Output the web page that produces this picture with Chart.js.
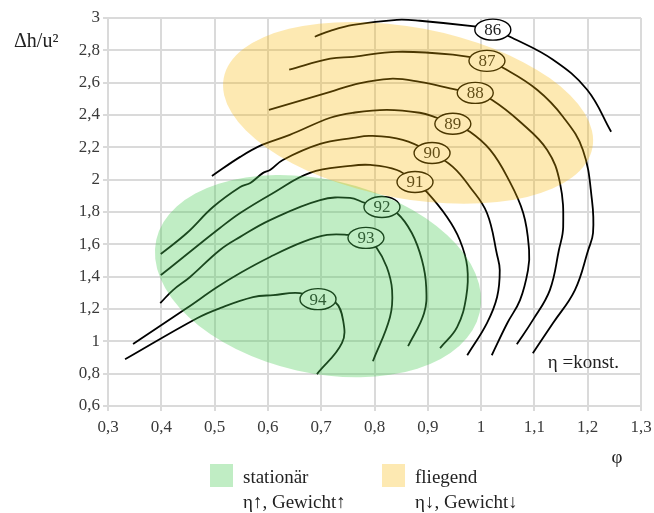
<!DOCTYPE html>
<html>
<head>
<meta charset="utf-8">
<script src="https://cdn.jsdelivr.net/npm/chart.js@4.4.0/dist/chart.umd.min.js"></script>
<style>
  html, body { margin: 0; padding: 0; background: #fff; }
  canvas { display: block; }
</style>
</head>
<body>
<canvas id="chart" width="654" height="513"></canvas>
<script>
// efficiency contours, points as [phi, dh/u^2]
const eta86 = [[0.688,2.884],[0.717,2.921],[0.760,2.958],[0.842,2.989],[0.885,2.983],[0.992,2.946],[1.022,2.928],[1.058,2.878],[1.135,2.742],[1.199,2.556],[1.244,2.296]];
const eta87 = [[0.640,2.680],[0.717,2.748],[0.760,2.760],[0.842,2.791],[0.947,2.773],[1.011,2.735],[1.041,2.692],[1.105,2.556],[1.154,2.388],[1.191,2.184],[1.208,1.874],[1.210,1.670],[1.201,1.565],[1.176,1.317],[1.135,1.113],[1.097,0.927]];
const eta88 = [[0.602,2.432],[0.717,2.543],[0.760,2.587],[0.829,2.624],[0.885,2.605],[0.955,2.556],[0.989,2.537],[1.020,2.494],[1.073,2.358],[1.124,2.184],[1.148,1.980],[1.154,1.707],[1.146,1.565],[1.129,1.317],[1.097,1.131],[1.067,0.982]];
const eta89 = [[0.495,2.023],[0.548,2.141],[0.589,2.215],[0.641,2.277],[0.717,2.383],[0.760,2.414],[0.823,2.432],[0.885,2.414],[0.917,2.383],[0.947,2.346],[0.979,2.296],[1.017,2.184],[1.049,2.017],[1.079,1.794],[1.090,1.565],[1.088,1.441],[1.073,1.255],[1.049,1.112],[1.020,0.914]];
const eta90 = [[0.399,1.540],[0.448,1.670],[0.497,1.831],[0.548,1.955],[0.567,1.980],[0.591,2.042],[0.604,2.060],[0.628,2.122],[0.698,2.221],[0.760,2.258],[0.792,2.271],[0.853,2.246],[0.908,2.165],[0.947,2.079],[0.979,1.955],[1.011,1.794],[1.030,1.534],[1.035,1.441],[1.030,1.274],[1.011,1.113],[0.974,0.914]];
const eta91 = [[0.399,1.410],[0.416,1.454],[0.458,1.565],[0.510,1.701],[0.548,1.794],[0.610,1.918],[0.679,2.042],[0.754,2.085],[0.792,2.091],[0.842,2.060],[0.876,1.986],[0.898,1.924],[0.936,1.769],[0.960,1.627],[0.974,1.460],[0.972,1.274],[0.955,1.088],[0.923,0.958]];
const eta92 = [[0.398,1.236],[0.422,1.317],[0.454,1.398],[0.510,1.565],[0.548,1.646],[0.604,1.750],[0.698,1.874],[0.754,1.887],[0.782,1.856],[0.814,1.831],[0.842,1.794],[0.870,1.670],[0.889,1.503],[0.897,1.336],[0.893,1.174],[0.863,0.970]];
const eta93 = [[0.347,0.983],[0.448,1.206],[0.505,1.336],[0.548,1.423],[0.604,1.522],[0.666,1.615],[0.711,1.658],[0.750,1.658],[0.784,1.640],[0.803,1.584],[0.823,1.460],[0.833,1.317],[0.829,1.149],[0.797,0.877]];
const eta94 = [[0.332,0.889],[0.467,1.143],[0.510,1.205],[0.572,1.273],[0.610,1.286],[0.660,1.298],[0.694,1.261],[0.726,1.243],[0.741,1.132],[0.739,0.990],[0.692,0.797]];

const etaValues = [86, 87, 88, 89, 90, 91, 92, 93, 94];
const etaCurves = [eta86, eta87, eta88, eta89, eta90, eta91, eta92, eta93, eta94];
const labelX = [1.022, 1.011, 0.989, 0.947, 0.908, 0.876, 0.814, 0.784, 0.694];
const labelY = [2.928, 2.735, 2.537, 2.346, 2.165, 1.986, 1.831, 1.640, 1.261];

// operating zones (ellipses)
const zoneNames = ['stationär', 'fliegend'];
const zoneNotes = ['η↑, Gewicht↑', 'η↓, Gewicht↓'];
const zoneCenterX = [0.694, 0.863];
const zoneCenterY = [1.403, 2.413];
const zoneRadiusX = [0.311, 0.352];
const zoneRadiusY = [0.598, 0.529];
const zoneAngle = [12.7, 10.7];

const xMin = 0.3, xMax = 1.3, xStep = 0.1;
const yMin = 0.6, yMax = 3, yStep = 0.2;

const serif = '"Liberation Serif", "DejaVu Serif", serif';
const zoneOverlay = ['rgba(74,203,86,0.35)', 'rgba(250,182,0,0.30)'];
const zoneSwatch = ['#c0edc4', '#fde9b2'];
const textColor = '#3a3a3a';
const gridColor = '#dadada';

function germanTick(value) {
  const r = Math.round(value * 10) / 10;
  if (Number.isInteger(r)) return String(r);
  return r.toFixed(1).replace('.', ',');
}

const datasets = etaCurves.map((pts, i) => ({
  label: 'η = ' + etaValues[i],
  data: pts.map(p => ({ x: p[0], y: p[1] })),
  showLine: true,
  borderColor: '#000',
  borderWidth: 1.8,
  pointRadius: 0,
  tension: 0.4,
  fill: false,
}));

const overlayPlugin = {
  id: 'overlay',
  afterDatasetsDraw(chart) {
    const ctx = chart.ctx;
    const xs = chart.scales.x;
    const ys = chart.scales.y;
    ctx.save();

    // contour labels
    ctx.font = '17px ' + serif;
    ctx.textAlign = 'center';
    ctx.textBaseline = 'middle';
    etaValues.forEach((v, i) => {
      const px = xs.getPixelForValue(labelX[i]);
      const py = ys.getPixelForValue(labelY[i]);
      ctx.beginPath();
      ctx.ellipse(px, py, 18, 10.5, 0, 0, Math.PI * 2);
      ctx.fillStyle = '#fff';
      ctx.fill();
      ctx.lineWidth = 1.4;
      ctx.strokeStyle = '#000';
      ctx.stroke();
      ctx.fillStyle = '#222';
      ctx.fillText(String(v), px, py + 1);
    });

    // transparent zones on top
    zoneNames.forEach((name, i) => {
      const cx = xs.getPixelForValue(zoneCenterX[i]);
      const cy = ys.getPixelForValue(zoneCenterY[i]);
      const rx = Math.abs(xs.getPixelForValue(zoneCenterX[i] + zoneRadiusX[i]) - cx);
      const ry = Math.abs(ys.getPixelForValue(zoneCenterY[i] + zoneRadiusY[i]) - cy);
      ctx.beginPath();
      ctx.ellipse(cx, cy, rx, ry, zoneAngle[i] * Math.PI / 180, 0, Math.PI * 2);
      ctx.fillStyle = zoneOverlay[i];
      ctx.fill();
    });

    ctx.restore();
  },
  afterDraw(chart) {
    const ctx = chart.ctx;
    const area = chart.chartArea;
    const xs = chart.scales.x;
    const ys = chart.scales.y;
    ctx.save();
    ctx.fillStyle = '#222';
    ctx.textBaseline = 'middle';

    // axis titles
    ctx.font = '20px ' + serif;
    ctx.textAlign = 'left';
    ctx.fillText('Δh/u²', 14, area.top + 24);
    ctx.textAlign = 'center';
    ctx.font = '19px ' + serif;
    ctx.fillText('φ', 617, area.bottom + 52);

    // note inside plot
    ctx.textAlign = 'left';
    ctx.font = '19px ' + serif;
    ctx.fillText('η =konst.', xs.getPixelForValue(1.125), ys.getPixelForValue(0.864));

    // legend
    const legendX = [210, 382];
    ctx.font = '19px ' + serif;
    zoneNames.forEach((name, i) => {
      ctx.fillStyle = zoneSwatch[i];
      ctx.fillRect(legendX[i], area.bottom + 58, 23, 23);
      ctx.fillStyle = '#222';
      ctx.fillText(name, legendX[i] + 33, area.bottom + 72);
      ctx.fillText(zoneNotes[i], legendX[i] + 33, area.bottom + 97);
    });
    ctx.restore();
  }
};

new Chart(document.getElementById('chart'), {
  type: 'scatter',
  data: { datasets: datasets },
  options: {
    responsive: false,
    animation: false,
    layout: { padding: { left: 0, top: 18, right: 13, bottom: 0 } },
    plugins: {
      legend: { display: false },
      tooltip: { enabled: false },
    },
    scales: {
      x: {
        type: 'linear',
        min: xMin,
        max: xMax,
        afterFit(scale) {
          scale.height = 107;
          scale.paddingLeft = 0;
          scale.paddingRight = 0;
        },
        grid: { color: gridColor, lineWidth: 2, tickLength: 5 },
        border: { color: gridColor, width: 2 },
        ticks: {
          stepSize: xStep,
          color: textColor,
          padding: 6,
          font: { family: serif, size: 17 },
          callback: germanTick,
        },
      },
      y: {
        type: 'linear',
        min: yMin,
        max: yMax,
        afterFit(scale) {
          scale.width = 108;
          scale.paddingTop = 0;
          scale.paddingBottom = 0;
        },
        grid: { color: gridColor, lineWidth: 2, tickLength: 5 },
        border: { color: gridColor, width: 2 },
        ticks: {
          stepSize: yStep,
          color: textColor,
          padding: 3,
          font: { family: serif, size: 17 },
          callback: germanTick,
        },
      },
    },
  },
  plugins: [overlayPlugin],
});
</script>
</body>
</html>
